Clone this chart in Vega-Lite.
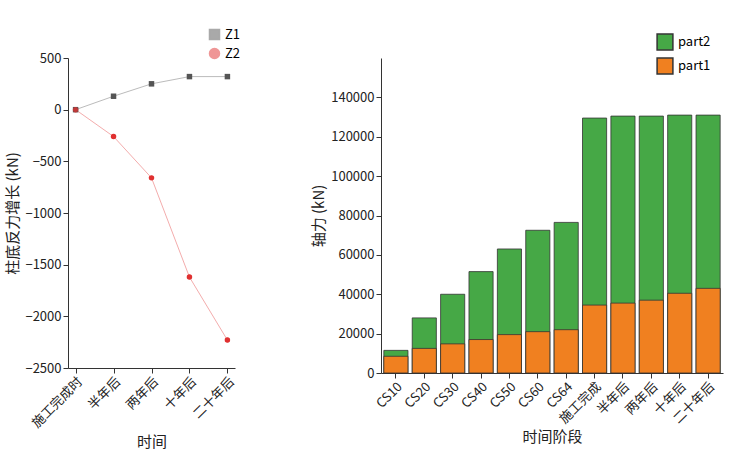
{
"$schema":"https://vega.github.io/schema/vega-lite/v6.json",
"padding":{"left":5,"top":28,"right":15,"bottom":5},
"spacing":70,
"resolve":{"scale":{"color":"independent","shape":"independent"},"legend":{"color":"independent","shape":"independent"}},
"config":{"font":"Noto Sans CJK SC","view":{"stroke":null},"axis":{"grid":false,"labelFontSize":13,"titleFontSize":15,"titleFontWeight":"normal","domainColor":"#333","tickColor":"#333","labelColor":"#222","titleColor":"#222"},"legend":{"labelFontSize":13}},
"hconcat":[
{"width":167,"height":310,
"data":{"values":[
{"t":"施工完成时","s":"Z1","v":0},{"t":"半年后","s":"Z1","v":130},{"t":"两年后","s":"Z1","v":250},{"t":"十年后","s":"Z1","v":320},{"t":"二十年后","s":"Z1","v":320},
{"t":"施工完成时","s":"Z2","v":0},{"t":"半年后","s":"Z2","v":-260},{"t":"两年后","s":"Z2","v":-660},{"t":"十年后","s":"Z2","v":-1620},{"t":"二十年后","s":"Z2","v":-2230}]},
"encoding":{
"x":{"field":"t","type":"ordinal","sort":null,"title":"时间","scale":{"padding":0.2},"axis":{"labelAngle":-45}},
"y":{"field":"v","type":"quantitative","title":"柱底反力增长 (kN)","scale":{"domain":[-2500,500]},"axis":{"values":[-2500,-2000,-1500,-1000,-500,0,500],"format":"d"}},
"color":{"field":"s","type":"nominal","scale":{"domain":["Z1","Z2"],"range":["#555555","#e03030"]},"legend":{"title":null,"orient":"none","legendX":140,"legendY":-30}},
"shape":{"field":"s","type":"nominal","scale":{"domain":["Z1","Z2"],"range":["square","circle"]},"legend":{"title":null,"orient":"none","legendX":140,"legendY":-30}}},
"layer":[
{"mark":{"type":"line","strokeWidth":0.8,"opacity":0.5}},
{"mark":{"type":"point","filled":true,"size":20}}]},
{"width":342,"height":315,
"data":{"values":[
{"c":"CS10","p1":8500,"tot":11500},{"c":"CS20","p1":12500,"tot":28000},{"c":"CS30","p1":14800,"tot":40000},{"c":"CS40","p1":17000,"tot":51500},{"c":"CS50","p1":19500,"tot":63000},{"c":"CS60","p1":21000,"tot":72500},{"c":"CS64","p1":22000,"tot":76500},{"c":"施工完成","p1":34500,"tot":129500},{"c":"半年后","p1":35500,"tot":130500},{"c":"两年后","p1":37000,"tot":130500},{"c":"十年后","p1":40500,"tot":131000},{"c":"二十年后","p1":43000,"tot":131000}]},
"encoding":{
"x":{"field":"c","type":"ordinal","sort":null,"title":"时间阶段","scale":{"paddingInner":0.15,"paddingOuter":0.1},"axis":{"labelAngle":-45}},
"y":{"type":"quantitative"}},
"layer":[
{"mark":{"type":"bar","stroke":"#333","strokeWidth":0.8},"encoding":{"y":{"field":"tot","type":"quantitative","title":"轴力 (kN)","scale":{"domain":[0,150000]},"axis":{"values":[0,20000,40000,60000,80000,100000,120000,140000],"format":"d"}},"color":{"datum":"part2","type":"nominal","scale":{"domain":["part2","part1"],"range":["#46a846","#f08020"]},"legend":{"title":null,"orient":"none","legendX":275,"legendY":-25,"symbolType":"square","symbolSize":250,"symbolOpacity":1,"symbolStrokeColor":"#333"}}}},
{"mark":{"type":"bar","stroke":"#333","strokeWidth":0.8},"encoding":{"y":{"field":"p1","type":"quantitative"},"color":{"datum":"part1","type":"nominal"}}}]}
]}
